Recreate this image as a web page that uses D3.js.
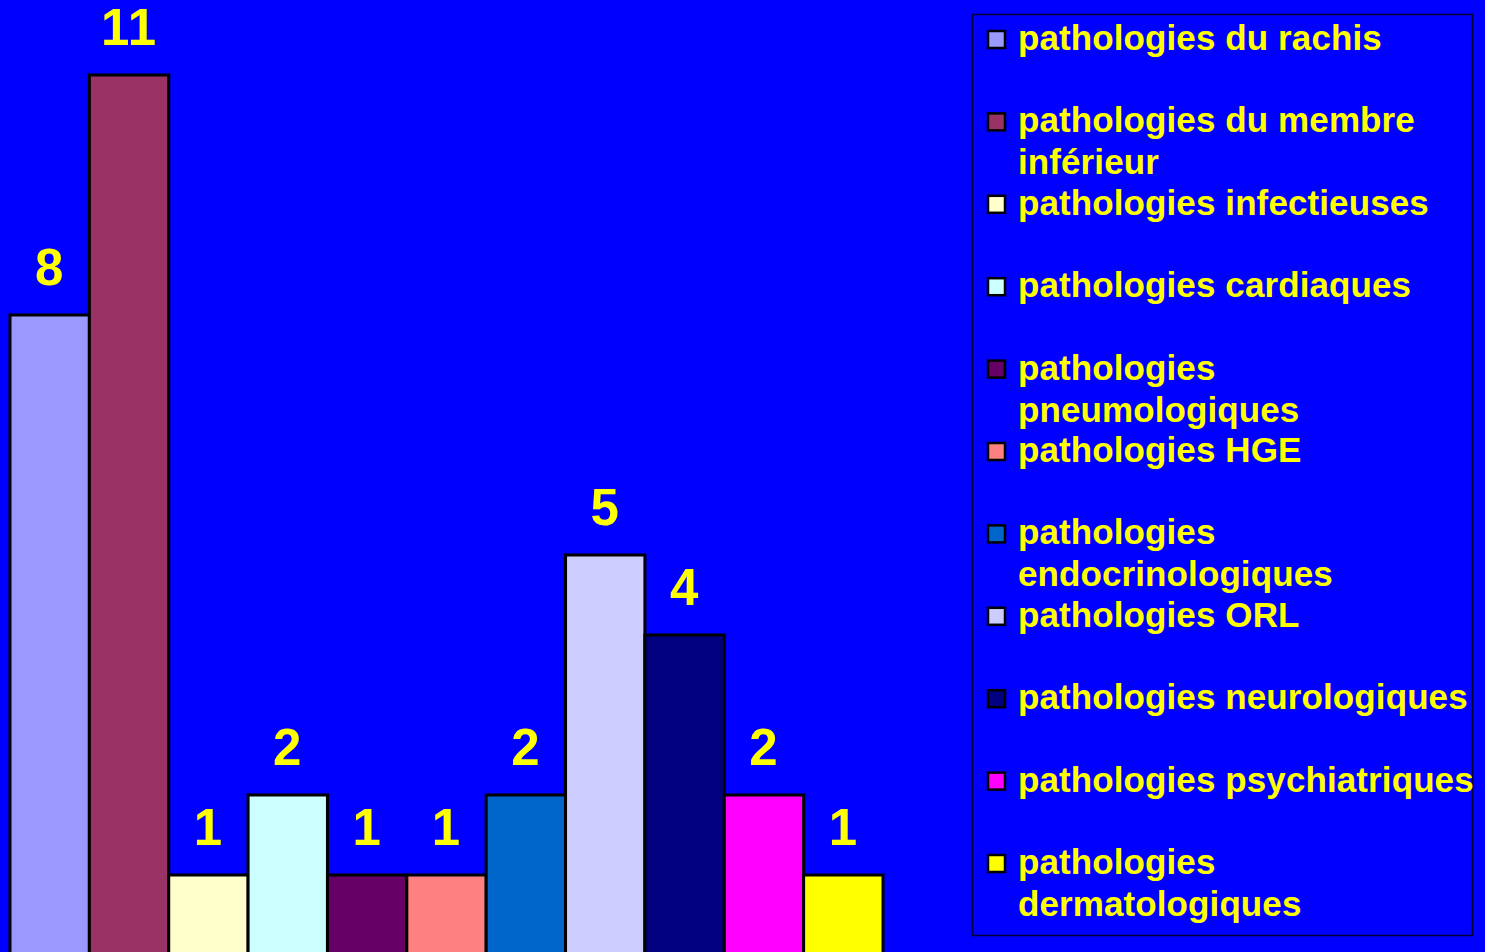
<!DOCTYPE html>
<html lang="fr">
<head>
<meta charset="UTF-8" />
<title>Pathologies</title>
<style>
  html, body { margin: 0; padding: 0; background: #0000ff; overflow: hidden; }
  svg { display: block; }
  text { font-family: "Liberation Sans", Arial, sans-serif; font-weight: bold; fill: #ffff00; }
</style>
<script src="https://d3js.org/d3.v7.min.js"></script>
</head>
<body>
<div id="chart"></div>
<script>
const categories = [
  "pathologies du rachis",
  "pathologies du membre inférieur",
  "pathologies infectieuses",
  "pathologies cardiaques",
  "pathologies pneumologiques",
  "pathologies HGE",
  "pathologies endocrinologiques",
  "pathologies ORL",
  "pathologies neurologiques",
  "pathologies psychiatriques",
  "pathologies dermatologiques"
];
const values = [8, 11, 1, 2, 1, 1, 2, 5, 4, 2, 1];
const colors = ["#9999ff", "#993366", "#ffffcc", "#ccffff", "#660066", "#ff8080",
                "#0066cc", "#ccccff", "#000080", "#ff00ff", "#ffff00"];

const width = 1485, height = 952;

const svg = d3.select("#chart").append("svg")
  .attr("width", width)
  .attr("height", height);

svg.append("rect").attr("width", width).attr("height", height).attr("fill", "#0000ff");

const x = d3.scaleBand().domain(categories).range([10, 883]).padding(0);
const y = d3.scaleLinear().domain([0, 11]).range([955, 75]);

const data = categories.map((c, i) => ({ cat: c, value: values[i], color: colors[i] }));

// bars
svg.append("g").selectAll("rect")
  .data(data)
  .join("rect")
  .attr("x", d => x(d.cat))
  .attr("y", d => y(d.value))
  .attr("width", x.bandwidth())
  .attr("height", d => y(0) - y(d.value))
  .attr("fill", d => d.color)
  .attr("stroke", "#000")
  .attr("stroke-width", 3);

// value labels
svg.append("g").selectAll("text")
  .data(data)
  .join("text")
  .attr("x", d => x(d.cat) + x.bandwidth() / 2)
  .attr("y", d => y(d.value) - 30)
  .attr("text-anchor", "middle")
  .style("font-size", "51px")
  .style("letter-spacing", "1px")
  .text(d => d.value);

// legend
const legend = svg.append("g");
legend.append("rect")
  .attr("x", 972.5).attr("y", 14.5)
  .attr("width", 500).attr("height", 921)
  .attr("fill", "none")
  .attr("stroke", "#000033")
  .attr("stroke-width", 1.5);

const rowStep = 82.4;
const items = legend.selectAll("g.item")
  .data(data)
  .join("g")
  .attr("class", "item")
  .attr("transform", (d, i) => `translate(0,${50 + i * rowStep})`);

items.append("rect")
  .attr("x", 988).attr("y", -19)
  .attr("width", 17).attr("height", 17)
  .attr("fill", d => d.color)
  .attr("stroke", "#000")
  .attr("stroke-width", 2.5);

items.append("text")
  .attr("x", 1018)
  .attr("y", 0)
  .style("font-size", "35px")
  .style("letter-spacing", "0.1px")
  .each(function(d) {
    const t = d3.select(this);
    const words = d.cat.split(" ");
    let line = [];
    let tspan = t.append("tspan").attr("x", 1018).attr("dy", 0);
    words.forEach(w => {
      line.push(w);
      tspan.text(line.join(" "));
      if (tspan.node().getComputedTextLength() > 462 && line.length > 1) {
        line.pop();
        tspan.text(line.join(" "));
        line = [w];
        tspan = t.append("tspan").attr("x", 1018).attr("dy", 42).text(w);
      }
    });
  });
</script>
</body>
</html>
